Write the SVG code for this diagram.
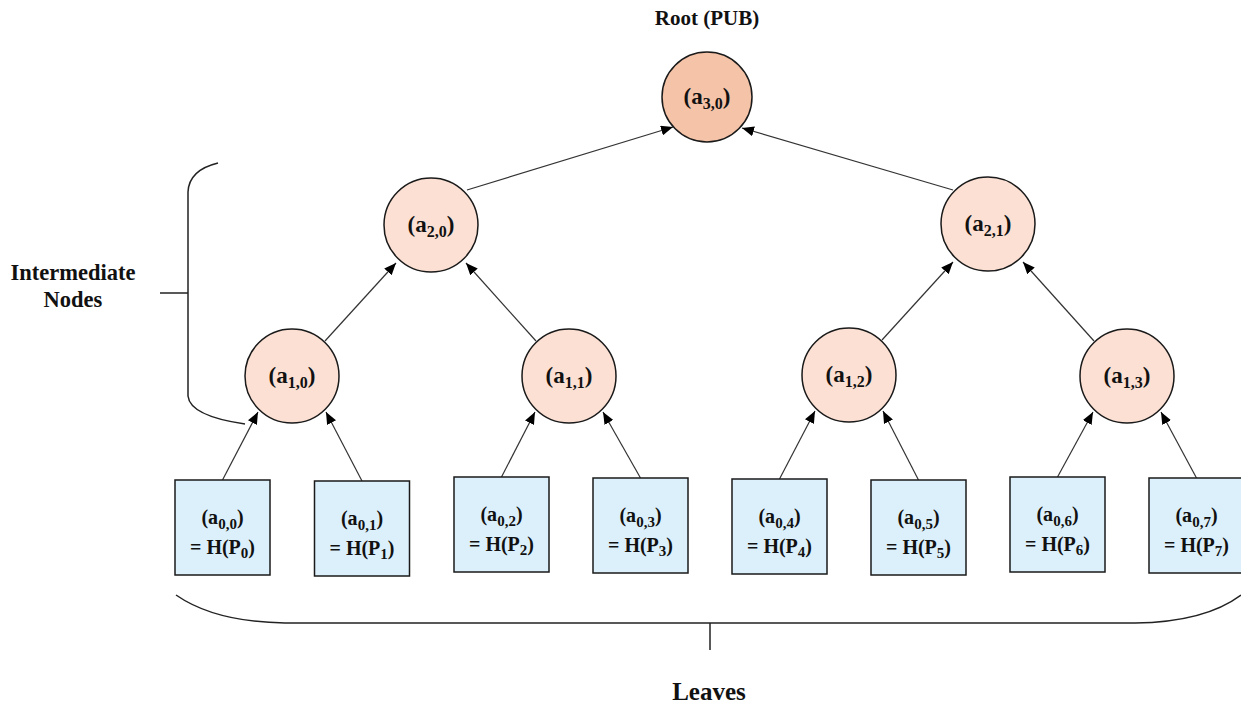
<svg xmlns="http://www.w3.org/2000/svg" width="1241" height="706" viewBox="0 0 1241 706">
<style>
text{font-family:"Liberation Serif","DejaVu Serif","Times New Roman",serif;font-weight:bold;fill:#111;text-anchor:middle}
.lbl{font-size:23px}
.leaf{font-size:20px}
.sub{font-size:15px}
.sub2{font-size:16px}
.root{fill:#F5C3A7;stroke:#1a1a1a;stroke-width:1.5}
.mid{fill:#FBE0D3;stroke:#1a1a1a;stroke-width:1.5}
.box{fill:#DCF0FB;stroke:#1a1a1a;stroke-width:1.5}
.edge{stroke:#333;stroke-width:1.2;fill:none;marker-end:url(#arr)}
.brace{stroke:#222;stroke-width:1.5;fill:none}
</style>
<defs>
<marker id="arr" viewBox="0 0 12 10" refX="12" refY="5" markerWidth="12" markerHeight="10" markerUnits="userSpaceOnUse" orient="auto">
<path d="M0,0 L12,5 L0,10 z" fill="#000"/>
</marker>
</defs>
<rect width="1241" height="706" fill="#fff"/>

<g id="connectors">
<line class="edge" x1="222.5" y1="480" x2="258" y2="412"/>
<line class="edge" x1="362" y1="481" x2="326" y2="412"/>
<line class="edge" x1="501.5" y1="477" x2="535" y2="412"/>
<line class="edge" x1="640.5" y1="478" x2="603" y2="412"/>
<line class="edge" x1="779.5" y1="479" x2="815" y2="411"/>
<line class="edge" x1="918.5" y1="480" x2="883" y2="411"/>
<line class="edge" x1="1057.5" y1="477" x2="1093" y2="412"/>
<line class="edge" x1="1196.5" y1="478" x2="1161" y2="412"/>
<line class="edge" x1="325" y1="341" x2="396" y2="263"/>
<line class="edge" x1="536" y1="341" x2="466" y2="263"/>
<line class="edge" x1="882" y1="340" x2="953" y2="262"/>
<line class="edge" x1="1094" y1="341" x2="1023" y2="262"/>
<line class="edge" x1="467" y1="190" x2="673" y2="127"/>
<line class="edge" x1="953" y1="190" x2="742" y2="128"/>
</g>

<g id="root">
<text x="707" y="25" style="font-size:21px">Root (PUB)</text>
<circle class="root" cx="707" cy="97" r="45"/>
<text class="lbl" x="707" y="104">(a<tspan class="sub2" dy="5">3,0</tspan><tspan dy="-5">)</tspan></text>
</g>

<g id="a20"><circle class="mid" cx="431" cy="225" r="47"/>
<text class="lbl" x="431" y="232">(a<tspan class="sub2" dy="5">2,0</tspan><tspan dy="-5">)</tspan></text></g>
<g id="a21"><circle class="mid" cx="988" cy="224" r="47"/>
<text class="lbl" x="988" y="231">(a<tspan class="sub2" dy="5">2,1</tspan><tspan dy="-5">)</tspan></text></g>

<g id="a10"><circle class="mid" cx="292" cy="376" r="47"/>
<text class="lbl" x="292" y="383">(a<tspan class="sub2" dy="5">1,0</tspan><tspan dy="-5">)</tspan></text></g>
<g id="a11"><circle class="mid" cx="569" cy="376" r="47"/>
<text class="lbl" x="569" y="383">(a<tspan class="sub2" dy="5">1,1</tspan><tspan dy="-5">)</tspan></text></g>
<g id="a12"><circle class="mid" cx="849" cy="375" r="47"/>
<text class="lbl" x="849" y="382">(a<tspan class="sub2" dy="5">1,2</tspan><tspan dy="-5">)</tspan></text></g>
<g id="a13"><circle class="mid" cx="1127" cy="376" r="47"/>
<text class="lbl" x="1127" y="383">(a<tspan class="sub2" dy="5">1,3</tspan><tspan dy="-5">)</tspan></text></g>

<g id="a00"><rect class="box" x="175" y="480" width="95" height="95"/>
<text class="leaf" x="222.5" y="524">(a<tspan class="sub" dy="5">0,0</tspan><tspan dy="-5">)</tspan></text>
<text class="leaf" x="222.5" y="554">= H(P<tspan class="sub" dy="4">0</tspan><tspan dy="-4">)</tspan></text></g>
<g id="a01"><rect class="box" x="314.5" y="481" width="95" height="95"/>
<text class="leaf" x="362" y="525">(a<tspan class="sub" dy="5">0,1</tspan><tspan dy="-5">)</tspan></text>
<text class="leaf" x="362" y="555">= H(P<tspan class="sub" dy="4">1</tspan><tspan dy="-4">)</tspan></text></g>
<g id="a02"><rect class="box" x="454" y="477" width="95" height="95"/>
<text class="leaf" x="501.5" y="521">(a<tspan class="sub" dy="5">0,2</tspan><tspan dy="-5">)</tspan></text>
<text class="leaf" x="501.5" y="551">= H(P<tspan class="sub" dy="4">2</tspan><tspan dy="-4">)</tspan></text></g>
<g id="a03"><rect class="box" x="593" y="478" width="95" height="95"/>
<text class="leaf" x="640.5" y="522">(a<tspan class="sub" dy="5">0,3</tspan><tspan dy="-5">)</tspan></text>
<text class="leaf" x="640.5" y="552">= H(P<tspan class="sub" dy="4">3</tspan><tspan dy="-4">)</tspan></text></g>
<g id="a04"><rect class="box" x="732" y="479" width="95" height="95"/>
<text class="leaf" x="779.5" y="523">(a<tspan class="sub" dy="5">0,4</tspan><tspan dy="-5">)</tspan></text>
<text class="leaf" x="779.5" y="553">= H(P<tspan class="sub" dy="4">4</tspan><tspan dy="-4">)</tspan></text></g>
<g id="a05"><rect class="box" x="871" y="480" width="95" height="95"/>
<text class="leaf" x="918.5" y="524">(a<tspan class="sub" dy="5">0,5</tspan><tspan dy="-5">)</tspan></text>
<text class="leaf" x="918.5" y="554">= H(P<tspan class="sub" dy="4">5</tspan><tspan dy="-4">)</tspan></text></g>
<g id="a06"><rect class="box" x="1010" y="477" width="95" height="95"/>
<text class="leaf" x="1057.5" y="521">(a<tspan class="sub" dy="5">0,6</tspan><tspan dy="-5">)</tspan></text>
<text class="leaf" x="1057.5" y="551">= H(P<tspan class="sub" dy="4">6</tspan><tspan dy="-4">)</tspan></text></g>
<g id="a07"><rect class="box" x="1149" y="478" width="95" height="95"/>
<text class="leaf" x="1196.5" y="522">(a<tspan class="sub" dy="5">0,7</tspan><tspan dy="-5">)</tspan></text>
<text class="leaf" x="1196.5" y="552">= H(P<tspan class="sub" dy="4">7</tspan><tspan dy="-4">)</tspan></text></g>

<g id="intermediate-brace">
<path class="brace" d="M218,163 Q189,170 188,192 L188,396 Q190,416 245,424"/>
<line class="brace" x1="160" y1="293" x2="188" y2="293"/>
<text x="73" y="280" style="font-size:22.5px">Intermediate</text>
<text x="73" y="307" style="font-size:22.5px">Nodes</text>
</g>

<g id="leaves-brace">
<path class="brace" d="M176,595 Q215,622 285,623 L1135,623 Q1205,622 1241,595"/>
<line class="brace" x1="710" y1="623" x2="710" y2="650"/>
<text x="709" y="700" style="font-size:25px">Leaves</text>
</g>
</svg>
